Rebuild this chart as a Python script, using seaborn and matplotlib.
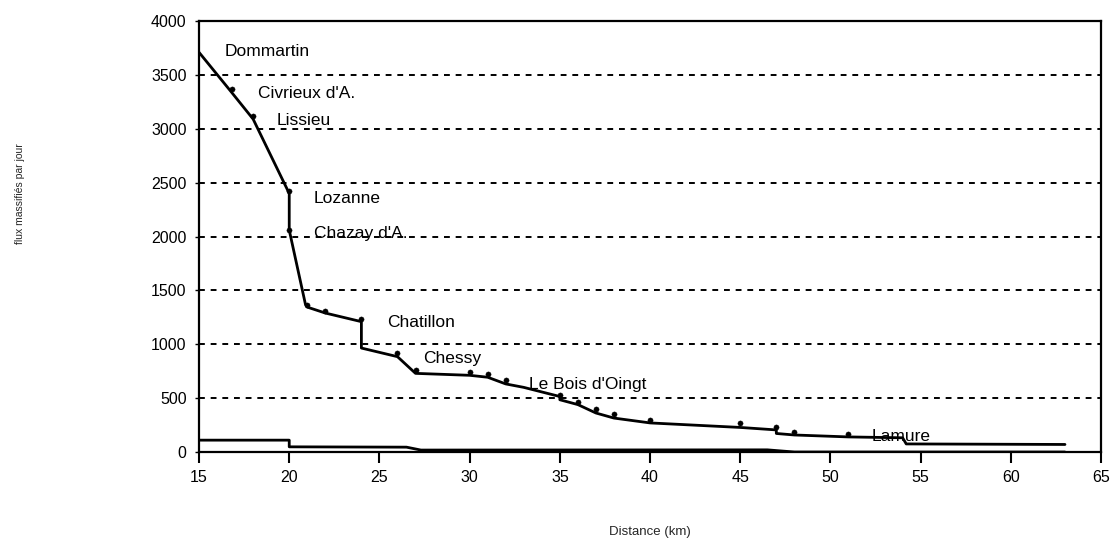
import numpy as np
import pandas as pd
import matplotlib
matplotlib.use('Agg')
import matplotlib.pyplot as plt
import seaborn as sns

# courbe principale (flux massifiés par jour le long de la ligne)
dist_main = [15, 16.8, 18, 20, 20, 20.9, 21, 22, 24, 24, 26, 27, 30, 31, 32, 33,
             35, 35, 36, 37, 38, 40, 45, 47, 47, 48, 51, 54, 54.2, 63]
flux_main = [3710, 3340, 3090, 2400, 2060, 1370, 1345, 1290, 1210, 965, 885, 730,
             712, 694, 632, 600, 515, 485, 440, 362, 315, 270, 228, 205, 172, 158,
             140, 132, 75, 70]

# courbe basse
dist_low = [15, 20, 20, 26.5, 27.3, 46.5, 48, 63]
flux_low = [110, 110, 48, 45, 18, 20, 0, 0]

# gares (points)
dist_gare = [16.8, 18, 20, 20, 21, 22, 24, 26, 27, 30, 31, 32, 35, 36, 37, 38,
             40, 45, 47, 48, 51]
flux_gare = [3370, 3120, 2420, 2060, 1360, 1305, 1235, 915, 765, 745, 722, 665,
             525, 465, 395, 350, 300, 265, 232, 190, 165]

# noms des gares
noms = ['Dommartin', "Civrieux d'A.", 'Lissieu', 'Lozanne', "Chazay d'A.",
        'Chatillon', 'Chessy', "Le Bois d'Oingt", 'Lamure']
noms_x = [16.4, 18.25, 19.3, 21.35, 21.35, 25.45, 27.4, 33.3, 52.3]
noms_y = [3720, 3325, 3075, 2350, 2030, 1205, 870, 630, 140]

sns.set_style('white')
plt.rcParams['font.family'] = ['Liberation Sans', 'DejaVu Sans']

fig = plt.figure(figsize=(11.15, 5.41), dpi=100)
ax = fig.add_axes([0.1785, 0.1645, 0.809, 0.7965])

main_df = pd.DataFrame({'d': dist_main, 'f': flux_main})
low_df = pd.DataFrame({'d': dist_low, 'f': flux_low})
gare_df = pd.DataFrame({'d': dist_gare, 'f': flux_gare})

sns.lineplot(data=main_df, x='d', y='f', sort=False, estimator=None,
             color='black', linewidth=2, ax=ax)
sns.lineplot(data=low_df, x='d', y='f', sort=False, estimator=None,
             color='black', linewidth=2, ax=ax)
sns.scatterplot(data=gare_df, x='d', y='f', color='black', s=14,
                edgecolor='black', ax=ax, zorder=4)

for n, x, y in zip(noms, noms_x, noms_y):
    ax.text(x, y, n, fontsize=12.5, va='center', ha='left', color='black')

ax.set_xlim(15, 65)
ax.set_ylim(0, 4000)
ax.set_xticks(np.arange(15, 66, 5))
ax.set_yticks(np.arange(0, 4001, 500))
for y in range(500, 4000, 500):
    ax.axhline(y, color='black', linewidth=1.4, linestyle=(0, (3, 3)), zorder=1)

ax.tick_params(axis='x', direction='out', length=8, width=1.5, pad=5,
               labelsize=11.5, colors='black', bottom=True)
ax.tick_params(axis='y', direction='out', length=3, width=1, pad=6,
               labelsize=11.5, colors='black', left=True)
for s in ax.spines.values():
    s.set_color('black')
    s.set_linewidth(1.6)

ax.set_xlabel('')
ax.set_ylabel('')
fig.text(0.583, 0.017, 'Distance (km)', ha='center', va='center', fontsize=9.5)
fig.text(0.018, 0.643, 'flux massifiés par jour', ha='center', va='center',
         rotation=90, fontsize=7.5)

fig.savefig('out.png', dpi=100)
